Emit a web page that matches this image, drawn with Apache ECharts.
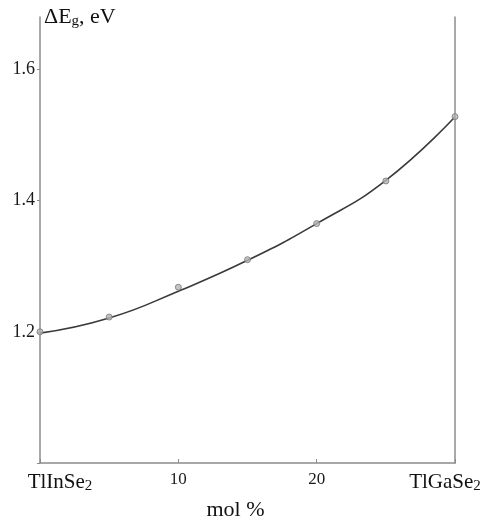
<!DOCTYPE html>
<html><head><meta charset="utf-8">
<script src="https://cdn.jsdelivr.net/npm/echarts@6/dist/echarts.min.js"></script>
<style>html,body{margin:0;padding:0;background:#fff}#c{width:487px;height:517px}</style>
</head><body><div id="c"></div>
<script>
// composition, mol % (TlInSe2 = 0 ... TlGaSe2 = 30)
var molPercent = [0, 5, 10, 15, 20, 25, 30];
// measured band-gap points, eV
var gapMeasured = [1.200, 1.2225, 1.268, 1.310, 1.365, 1.430, 1.528];
// fitted curve at the same compositions
var gapCurve = [1.198, 1.221, 1.262, 1.309, 1.365, 1.431, 1.528];
var yTickLabels = [1.2, 1.4, 1.6];
var xTickLabels = {0: 'TlInSe2', 10: '10', 20: '20', 30: 'TlGaSe2'};

var FONT = '"Liberation Serif", "DejaVu Serif", serif';
var chart = echarts.init(document.getElementById('c'), null, {renderer: 'canvas'});

function pairs(xs, ys) { return xs.map(function (x, i) { return [x, ys[i]]; }); }

var option = {
  backgroundColor: '#fff',
  animation: false,
  grid: {left: 40, right: 32, top: 17, bottom: 54, containLabel: false, outerBoundsMode: 'none'},
  xAxis: {
    type: 'value', min: 0, max: 30, interval: 10,
    axisLine: {show: true, lineStyle: {color: '#8c8c8c', width: 1.5}},
    axisTick: {show: true, inside: true, length: 4, lineStyle: {color: '#8c8c8c'}},
    splitLine: {show: false},
    axisLabel: {
      margin: 8, color: '#1a1a1a', fontFamily: FONT, fontSize: 17,
      showMinLabel: true, showMaxLabel: true, hideOverlap: false,
      formatter: function (v) {
        var t = xTickLabels[Math.round(v)];
        if (t === 'TlInSe2') return '{a|TlInSe}{s|2}';
        if (t === 'TlGaSe2') return '{b|TlGaSe}{s2|2}';
        return t || '';
      },
      rich: {
        a: {fontFamily: FONT, fontSize: 21, color: '#111', padding: [0, 0, 0, 40]},
        b: {fontFamily: FONT, fontSize: 21, color: '#111'},
        s: {fontFamily: FONT, fontSize: 15, color: '#111', padding: [8, 0, 0, 0]},
        s2: {fontFamily: FONT, fontSize: 15, color: '#111', padding: [8, 20, 0, 0]}
      }
    },
    name: 'mol %', nameLocation: 'middle', nameGap: 24,
    nameTextStyle: {fontFamily: FONT, fontSize: 22, color: '#111', verticalAlign: 'top', padding: [0, 24, 0, 0]}
  },
  yAxis: [{
    type: 'value', min: 1.0, max: 1.68, interval: 0.2,
    axisLine: {show: true, lineStyle: {color: '#8c8c8c', width: 1.5}},
    axisTick: {show: true, inside: false, length: 3, lineStyle: {color: '#8c8c8c'}},
    splitLine: {show: false},
    axisLabel: {
      margin: 5, color: '#1a1a1a', fontFamily: FONT, fontSize: 18,
      showMaxLabel: false,
      formatter: function (v) {
        for (var i = 0; i < yTickLabels.length; i++) {
          if (Math.abs(v - yTickLabels[i]) < 1e-6) return yTickLabels[i].toFixed(1);
        }
        return '';
      }
    },
    name: '{d|ΔE}{g|g}{d|, eV}', nameLocation: 'end', nameGap: 0,
    nameTextStyle: {
      align: 'left', verticalAlign: 'middle', padding: [0, 0, 0, 4],
      rich: {
        d: {fontFamily: FONT, fontSize: 22, color: '#111'},
        g: {fontFamily: FONT, fontSize: 15, color: '#111', padding: [9, 0, 0, 0]}
      }
    }
  }, {
    type: 'value', min: 1.0, max: 1.68, position: 'right',
    axisLine: {show: true, lineStyle: {color: '#8c8c8c', width: 1.5}},
    axisTick: {show: false}, axisLabel: {show: false}, splitLine: {show: false}
  }],
  series: [{
    type: 'line', data: pairs(molPercent, gapCurve), smooth: 0.5,
    showSymbol: false, symbol: 'none',
    lineStyle: {color: '#3a3a3a', width: 1.6}, z: 2
  }, {
    type: 'scatter', data: pairs(molPercent, gapMeasured),
    symbol: 'circle', symbolSize: 6,
    itemStyle: {color: '#b5b5b5', borderColor: '#777', borderWidth: 1}, z: 3
  }]
};
chart.setOption(option);
</script></body></html>
